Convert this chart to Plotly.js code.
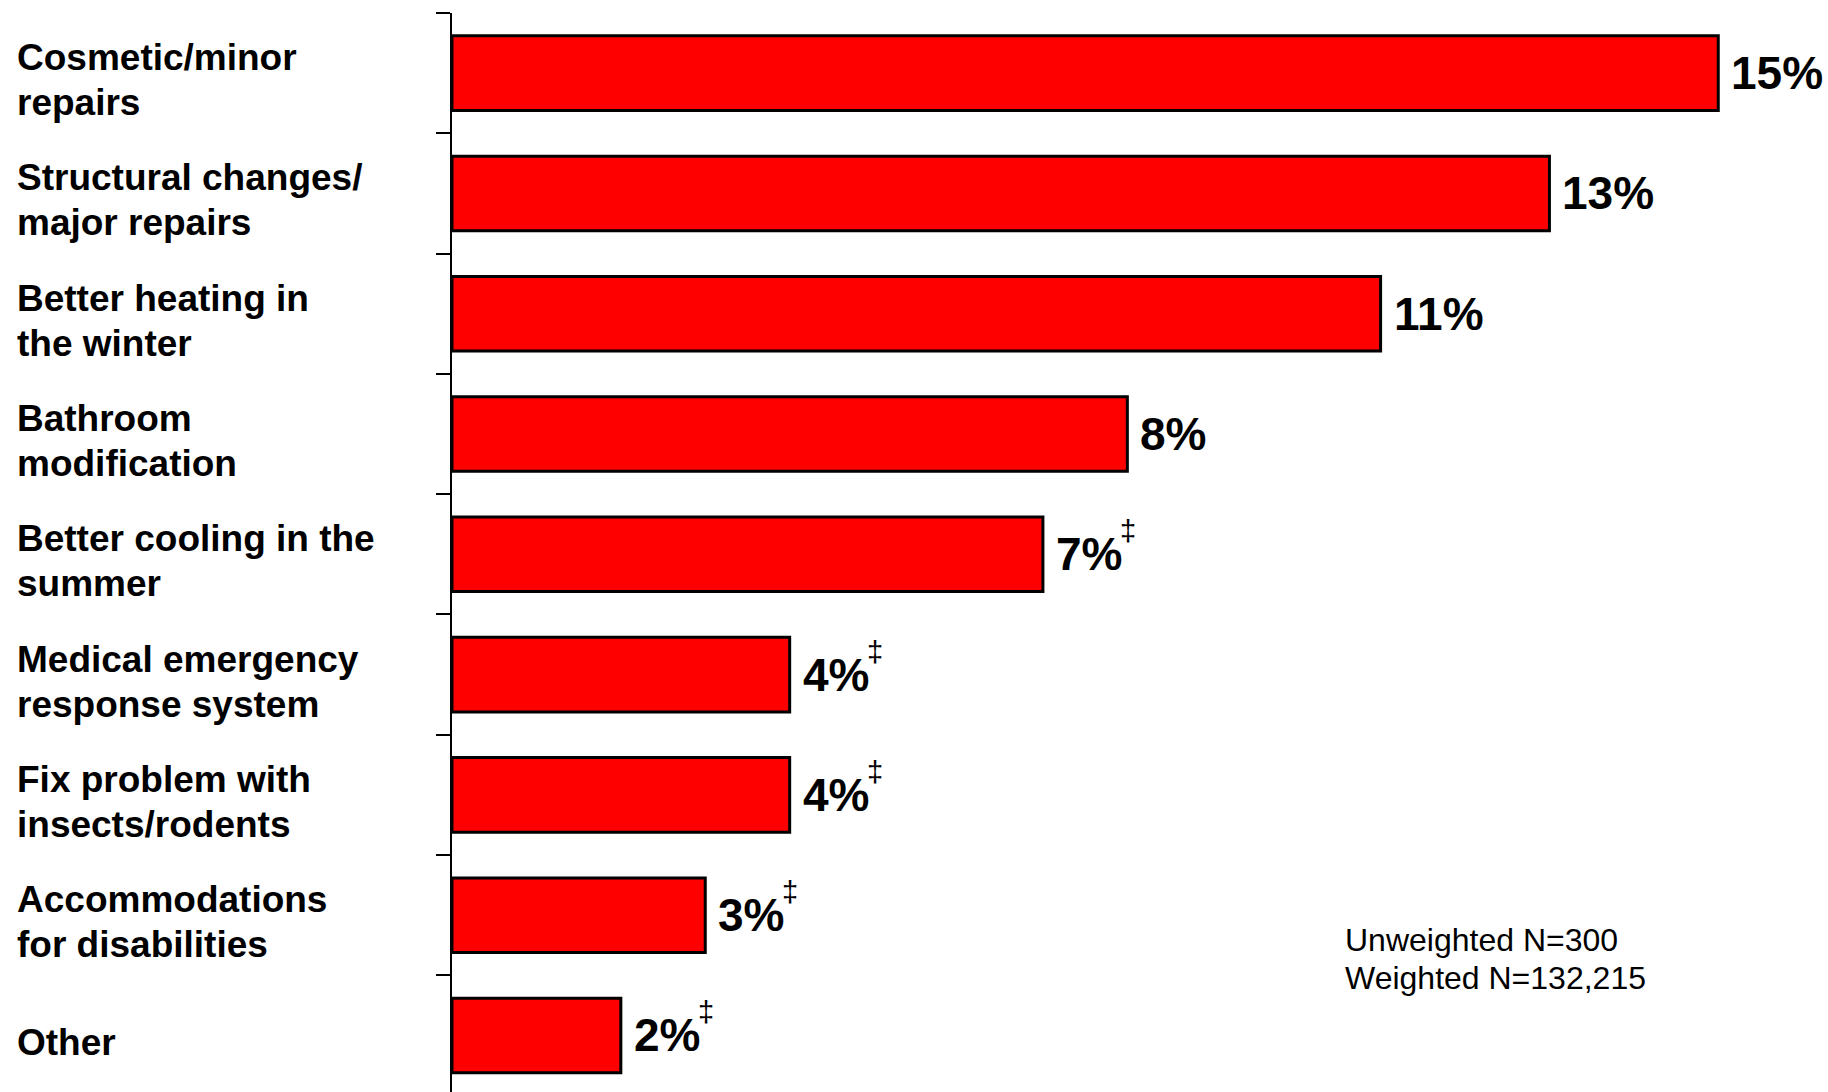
<!DOCTYPE html>
<html>
<head>
<meta charset="utf-8">
<script src="https://cdn.plot.ly/plotly-3.0.1.min.js"></script>
<style>html,body{margin:0;padding:0;background:#fff;}#chart{width:1828px;height:1092px;}</style>
</head>
<body>
<div id="chart"></div>
<script>
const categories = [
  "Cosmetic/minor<br>repairs",
  "Structural changes/<br>major repairs",
  "Better heating in<br>the winter",
  "Bathroom<br>modification",
  "Better cooling in the<br>summer",
  "Medical emergency<br>response system",
  "Fix problem with<br>insects/rodents",
  "Accommodations<br>for disabilities",
  "Other"
];
const values = [15, 13, 11, 8, 7, 4, 4, 3, 2];
const flagged = [false, false, false, false, true, true, true, true, true];
const noteLines = ["Unweighted N=300", "Weighted N=132,215"];

const FONT = '"Liberation Sans", Arial, Helvetica, sans-serif';
const annotations = [];

// category labels, left aligned, one annotation per line
categories.forEach((cat, i) => {
  const lines = cat.split('<br>');
  const spacing = 45;
  lines.forEach((ln, j) => {
    const off = (j - (lines.length - 1) / 2) * spacing;
    annotations.push({
      xref: 'paper', yref: 'y', x: -0.3176, y: cat,
      xanchor: 'left', yanchor: 'middle', align: 'left',
      yshift: -off - 7,
      showarrow: false, text: ln,
      font: {family: FONT, size: 37, color: '#000', weight: 'bold'}
    });
  });
});

// value labels
values.forEach((v, i) => {
  annotations.push({
    xref: 'x', yref: 'y', x: v, y: categories[i],
    xanchor: 'left', yanchor: 'middle', xshift: 11,
    showarrow: false, text: v + '%',
    font: {family: FONT, size: 46, color: '#000', weight: 'bold'}
  });
  if (flagged[i]) {
    annotations.push({
      xref: 'x', yref: 'y', x: v, y: categories[i],
      xanchor: 'left', yanchor: 'middle', xshift: 75, yshift: 23,
      showarrow: false, text: '‡',
      font: {family: FONT, size: 29, color: '#000'}
    });
  }
});

// note lines
noteLines.forEach((ln, j) => {
  annotations.push({
    xref: 'paper', yref: 'paper', x: 0.6478, y: 0.1595,
    xanchor: 'left', yanchor: 'top', align: 'left',
    yshift: -38 * j,
    showarrow: false, text: ln,
    font: {family: FONT, size: 32, color: '#000'}
  });
});

const trace = {
  type: 'bar', orientation: 'h',
  x: values, y: categories,
  width: 0.62,
  marker: {color: '#ff0000', line: {color: '#000', width: 3}},
  hoverinfo: 'none'
};

const layout = {
  width: 1828, height: 1092,
  margin: {l: 452, r: 0, t: 13, b: 0, pad: 0},
  paper_bgcolor: '#fff', plot_bgcolor: '#fff',
  showlegend: false,
  font: {family: FONT},
  xaxis: {range: [0, 16.3], visible: false, showgrid: false, zeroline: false, fixedrange: true},
  yaxis: {
    type: 'category', range: [8.47, -0.5],
    showticklabels: false, showgrid: false, zeroline: false,
    showline: true, linecolor: '#000', linewidth: 2,
    ticks: 'outside', tickson: 'boundaries', ticklen: 14, tickwidth: 2, tickcolor: '#000',
    fixedrange: true
  },
  annotations: annotations
};

Plotly.newPlot('chart', [trace], layout, {displayModeBar: false, staticPlot: true});
</script>
</body>
</html>
